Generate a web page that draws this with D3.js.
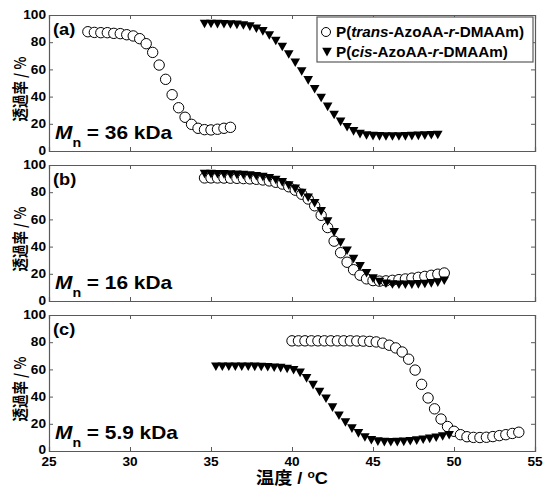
<!DOCTYPE html>
<html>
<head>
<meta charset="utf-8">
<script src="https://cdn.jsdelivr.net/npm/d3@7"></script>
<style>
  html, body { margin: 0; padding: 0; background: #fff; }
  svg { display: block; }
  text { font-family: "Liberation Sans", Arial, "Noto Sans CJK JP", sans-serif; font-weight: bold; }
  text.cjk { font-family: "Noto Sans CJK JP", "Liberation Sans", sans-serif; font-weight: 700; }
</style>
</head>
<body>
<svg id="chart" width="543" height="488"></svg>
<script>
// ---------------- data ----------------
const xTicks = [25, 30, 35, 40, 45, 50, 55];
const yTicks = [0, 20, 40, 60, 80, 100];
const panelTags = ["(a)", "(b)", "(c)"];
const mnValues = ["36 kDa", "16 kDa", "5.9 kDa"];
const legendLabels = [["P(", "trans", "-AzoAA-", "r", "-DMAAm)"], ["P(", "cis", "-AzoAA-", "r", "-DMAAm)"]];
const yLabel = "透過率 / %";
const xLabel = "温度 / ";

// panel (a) Mn = 36 kDa
const aTransT = [27.4, 27.8, 28.2, 28.6, 29.0, 29.4, 29.8, 30.2, 30.6, 31.0, 31.4, 31.8, 32.2, 32.6, 33.0, 33.4, 33.8, 34.2, 34.6, 35.0, 35.4, 35.8, 36.2];
const aTransY = [87.7, 87.2, 87.0, 87.0, 86.5, 86.3, 85.5, 84.6, 82.6, 78.9, 72.5, 63.2, 52.7, 41.4, 31.8, 24.8, 19.6, 16.7, 15.7, 15.5, 16.0, 16.7, 17.4];
const aCisT = [34.6, 35.0, 35.4, 35.8, 36.2, 36.6, 37.0, 37.4, 37.8, 38.2, 38.6, 39.0, 39.4, 39.8, 40.2, 40.6, 41.0, 41.4, 41.8, 42.2, 42.6, 43.0, 43.4, 43.8, 44.2, 44.6, 45.0, 45.4, 45.8, 46.2, 46.6, 47.0, 47.4, 47.8, 48.2, 48.6, 49.0];
const aCisY = [93.5, 93.5, 93.4, 93.3, 93.1, 92.8, 92.4, 91.5, 90.0, 88.0, 85.0, 81.0, 76.5, 71.0, 65.0, 58.5, 52.0, 45.5, 39.0, 32.5, 26.5, 21.5, 17.5, 14.5, 12.5, 11.5, 11.0, 10.8, 10.7, 10.7, 10.7, 10.8, 11.0, 11.2, 11.4, 11.6, 11.8];

// panel (b) Mn = 16 kDa
const bTransT = [34.6, 35.0, 35.4, 35.8, 36.2, 36.6, 37.0, 37.4, 37.8, 38.2, 38.6, 39.0, 39.4, 39.8, 40.2, 40.6, 41.0, 41.4, 41.8, 42.2, 42.6, 43.0, 43.4, 43.8, 44.2, 44.6, 45.0, 45.4, 45.8, 46.2, 46.6, 47.0, 47.4, 47.8, 48.2, 48.6, 49.0, 49.4];
const bTransY = [90.5, 90.5, 90.5, 90.4, 90.3, 90.2, 90.0, 89.8, 89.5, 89.0, 88.3, 87.3, 86.0, 84.0, 81.5, 78.5, 75.0, 70.0, 63.0, 54.0, 44.0, 35.5, 28.5, 23.0, 19.0, 16.3, 15.0, 14.6, 14.8, 15.2, 15.7, 16.2, 16.8, 17.4, 18.1, 18.9, 19.7, 20.6];
const bCisT = [34.6, 35.0, 35.4, 35.8, 36.2, 36.6, 37.0, 37.4, 37.8, 38.2, 38.6, 39.0, 39.4, 39.8, 40.2, 40.6, 41.0, 41.4, 41.8, 42.2, 42.6, 43.0, 43.4, 43.8, 44.2, 44.6, 45.0, 45.4, 45.8, 46.2, 46.6, 47.0, 47.4, 47.8, 48.2, 48.6, 49.0, 49.4];
const bCisY = [93.5, 93.4, 93.3, 93.2, 93.0, 92.8, 92.6, 92.3, 91.8, 91.2, 90.3, 89.0, 87.3, 85.0, 82.5, 79.5, 76.0, 72.0, 66.0, 58.5, 50.5, 43.0, 37.0, 31.0, 25.5, 20.5, 16.5, 14.0, 12.8, 12.2, 12.0, 12.0, 12.1, 12.3, 12.6, 13.0, 13.6, 15.0];

// panel (c) Mn = 5.9 kDa
const cTransT = [40.0, 40.4, 40.8, 41.2, 41.6, 42.0, 42.4, 42.8, 43.2, 43.6, 44.0, 44.4, 44.8, 45.2, 45.6, 46.0, 46.4, 46.8, 47.2, 47.6, 48.0, 48.4, 48.8, 49.2, 49.6, 50.0, 50.4, 50.8, 51.2, 51.6, 52.0, 52.4, 52.8, 53.2, 53.6, 54.0];
const cTransY = [81.0, 81.0, 81.0, 81.0, 81.0, 81.0, 81.0, 81.0, 81.0, 81.0, 80.9, 80.8, 80.6, 80.2, 79.3, 77.8, 75.8, 72.8, 67.5, 59.5, 49.0, 39.0, 31.0, 23.5, 18.0, 14.5, 12.0, 10.5, 10.0, 9.9, 10.1, 10.6, 11.3, 12.0, 12.9, 13.8];
const cCisT = [35.3, 35.7, 36.1, 36.5, 36.9, 37.3, 37.7, 38.1, 38.5, 38.9, 39.3, 39.7, 40.1, 40.5, 40.9, 41.3, 41.7, 42.1, 42.5, 42.9, 43.3, 43.7, 44.1, 44.5, 44.9, 45.3, 45.7, 46.1, 46.5, 46.9, 47.3, 47.7, 48.1, 48.5, 48.9, 49.3, 49.7];
const cCisY = [62.0, 62.0, 62.0, 62.0, 62.0, 62.0, 61.9, 61.8, 61.6, 61.3, 61.0, 60.4, 59.5, 57.5, 53.5, 48.5, 43.5, 38.5, 32.0, 26.0, 21.0, 16.5, 13.0, 10.0, 8.0, 7.0, 6.6, 6.5, 6.6, 6.8, 7.2, 7.7, 8.3, 9.0, 9.8, 10.7, 11.6];

const panels = [
  { trans: [aTransT, aTransY], cis: [aCisT, aCisY] },
  { trans: [bTransT, bTransY], cis: [bCisT, bCisY] },
  { trans: [cTransT, cTransY], cis: [cCisT, cCisY] }
];

// ---------------- layout ----------------
const svg = d3.select("#chart");
const left = 49, right = 535;
const panelTops = [15, 165, 315];
const panelH = 136;
const frameColor = "#5a5a5a";
const triPath = "M-4.8,-4.2L4.8,-4.2L0,4.4Z";
const circleR = 5.2;
const textScale = 1.14;

const x = d3.scaleLinear().domain([25, 55]).range([left, right]);

function stretchedText(g, tx, ty, anchor, size) {
  return g.append("text")
    .attr("transform", `translate(${tx},${ty}) scale(${textScale},1)`)
    .attr("text-anchor", anchor)
    .attr("font-size", size);
}

panels.forEach((p, i) => {
  const top = panelTops[i];
  const y = d3.scaleLinear().domain([0, 100]).range([top + panelH, top]);
  const g = svg.append("g");

  // frame + inward ticks
  const axB = g.append("g").attr("transform", `translate(0,${top + panelH})`)
    .call(d3.axisBottom(x).tickValues(xTicks).tickSize(-4).tickFormat(""));
  const axT = g.append("g").attr("transform", `translate(0,${top})`)
    .call(d3.axisTop(x).tickValues(xTicks).tickSize(-4).tickFormat(""));
  const axL = g.append("g").attr("transform", `translate(${left},0)`)
    .call(d3.axisLeft(y).tickValues(yTicks).tickSize(-4).tickFormat(""));
  const axR = g.append("g").attr("transform", `translate(${right},0)`)
    .call(d3.axisRight(y).tickValues(yTicks).tickSize(-4).tickFormat(""));
  [axB, axT, axL, axR].forEach(a => {
    a.selectAll("path").attr("stroke", frameColor).attr("stroke-width", 1.2);
    a.selectAll("line").attr("stroke", frameColor).attr("stroke-width", 1);
  });

  // y tick labels
  yTicks.forEach(v => {
    stretchedText(g, left - 3, y(v) + (i === 2 && v === 0 ? 2.5 : 4.2), "end", 12).text(v);
  });
  // x tick labels on bottom panel
  if (i === 2) {
    xTicks.forEach(v => {
      stretchedText(g, x(v), top + panelH + 14.5, "middle", 12).text(v);
    });
  }

  // y label
  g.append("text")
    .attr("class", "cjk")
    .attr("transform", `translate(26,${top + panelH / 2 + 6}) rotate(-90) scale(1,1.15)`)
    .attr("text-anchor", "middle")
    .attr("font-size", 13.5)
    .text(yLabel);

  // panel tag
  stretchedText(g, left + 4, top + 20, "start", 16).text(panelTags[i]);

  // Mn label
  const mt = stretchedText(g, left + 6, top + panelH - 12.5, "start", 18.3);
  mt.append("tspan").attr("font-style", "italic").text("M");
  mt.append("tspan").attr("font-size", 12.5).attr("dy", 8).text("n");
  mt.append("tspan").attr("dy", -8).text(" = " + mnValues[i]);

  // trans (open circles), then cis (filled triangles)
  const tT = p.trans[0], tY = p.trans[1];
  g.append("g").selectAll("circle").data(tT).join("circle")
    .attr("cx", (d) => x(d))
    .attr("cy", (d, k) => y(tY[k]))
    .attr("r", circleR)
    .attr("fill", "#fff").attr("stroke", "#000").attr("stroke-width", 1);

  const cT = p.cis[0], cY = p.cis[1];
  g.append("g").selectAll("path").data(cT).join("path")
    .attr("transform", (d, k) => `translate(${x(d)},${y(cY[k])})`)
    .attr("d", triPath)
    .attr("fill", "#000");

  // legend in panel (a)
  if (i === 0) {
    const lg = g.append("g");
    lg.append("rect").attr("x", 317).attr("y", 17).attr("width", 216).attr("height", 45)
      .attr("fill", "#fff").attr("stroke", frameColor).attr("stroke-width", 1.2);
    lg.append("circle").attr("cx", 326).attr("cy", 32).attr("r", 4.5)
      .attr("fill", "#fff").attr("stroke", "#000").attr("stroke-width", 1);
    lg.append("path").attr("transform", "translate(327,52)").attr("d", triPath).attr("fill", "#000");
    legendLabels.forEach((parts, r) => {
      const t = lg.append("text")
        .attr("transform", `translate(336,${37 + r * 20}) scale(1.09,1)`)
        .attr("font-size", 14);
      parts.forEach((s, k) => {
        const ts = t.append("tspan").text(s);
        if (k === 1 || k === 3) ts.attr("font-style", "italic");
      });
    });
  }
});

// x axis label (Liberation Sans primary, kanji fall back to Noto Sans CJK)
const xl = svg.append("text")
  .attr("transform", `translate(292,484.3) scale(1.1,1)`)
  .attr("text-anchor", "middle")
  .attr("font-size", 16.5);
xl.append("tspan").text(xLabel);
xl.append("tspan").attr("font-size", 11).attr("dy", -6).text("o");
xl.append("tspan").attr("dy", 6).text("C");
</script>
</body>
</html>
